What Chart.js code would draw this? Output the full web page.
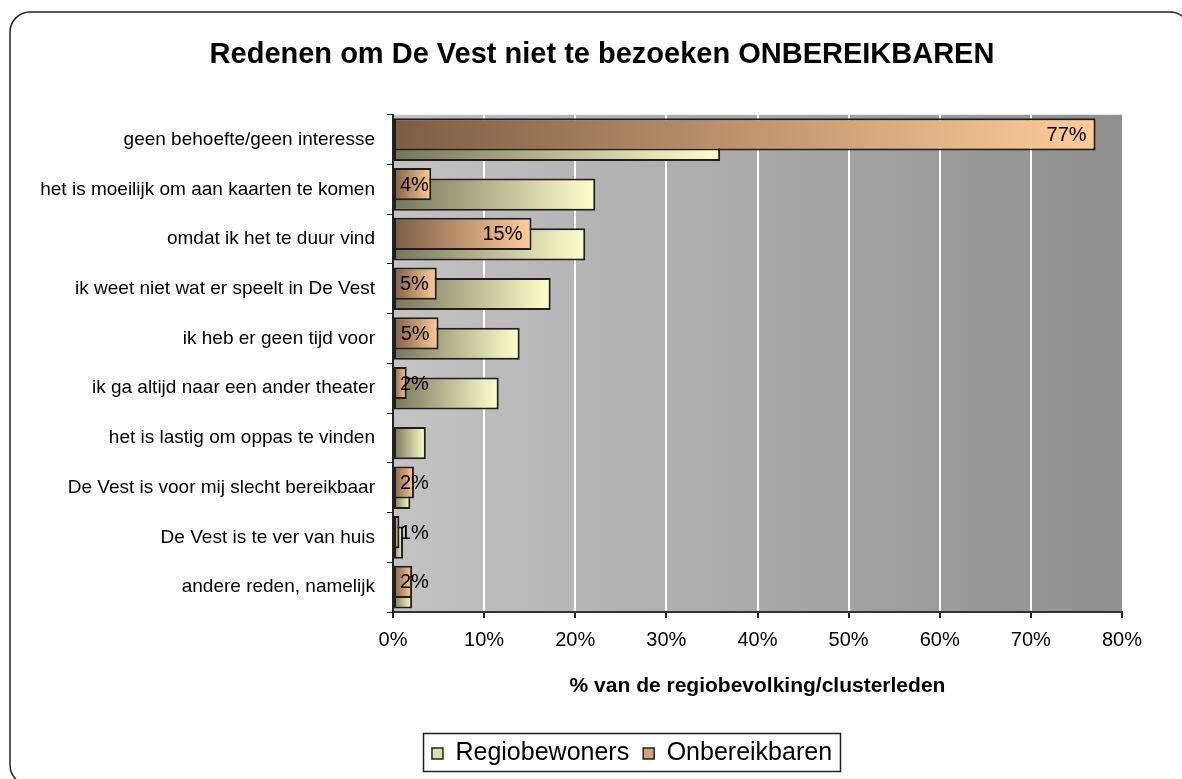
<!DOCTYPE html>
<html lang="nl">
<head>
<meta charset="UTF-8">
<title>Redenen om De Vest niet te bezoeken</title>
<script src="https://cdn.jsdelivr.net/npm/chart.js"></script>
<style>
    html, body { margin: 0; padding: 0; background: #fff; }
    #wrap { width: 1182px; height: 779px; }
</style>
</head>
<body>
<div id="wrap"><canvas id="grafiek" width="1182" height="779"></canvas></div>
<script>
// categorieën (van boven naar beneden)
const redenen = [
    "geen behoefte/geen interesse",
    "het is moeilijk om aan kaarten te komen",
    "omdat ik het te duur vind",
    "ik weet niet wat er speelt in De Vest",
    "ik heb er geen tijd voor",
    "ik ga altijd naar een ander theater",
    "het is lastig om oppas te vinden",
    "De Vest is voor mij slecht bereikbaar",
    "De Vest is te ver van huis",
    "andere reden, namelijk"
];
// percentages
const regiobewoners = [35.9, 22.2, 21.1, 17.3, 13.9, 11.6, 3.6, 1.9, 1.1, 2.1];
const onbereikbaren = [77.1, 4.2, 15.2, 4.8, 5.0, 1.5, null, 2.3, 0.7, 2.1];
const xTicks = [0, 10, 20, 30, 40, 50, 60, 70, 80];

const lettertype = "'Liberation Sans', Arial, sans-serif";

// verloop per balk: donker aan de as, licht aan het eind
function balkVerloop(donker, licht) {
    return ctx => {
        const chart = ctx.chart;
        if (!chart.chartArea || ctx.type !== 'data' || ctx.raw == null) return licht;
        const x = chart.scales.x;
        const x0 = x.getPixelForValue(0);
        const x1 = x.getPixelForValue(ctx.raw);
        if (!(x1 - x0 > 1)) return donker;
        const g = chart.ctx.createLinearGradient(x0, 0, x1, 0);
        g.addColorStop(0, donker);
        g.addColorStop(1, licht);
        return g;
    };
}

// box horizontaal verplaatsen zodat het midden op cx ligt
function centreer(box, cx) {
    const d = cx - (box.left + box.right) / 2;
    box.left += d;
    box.right += d;
}

// achtergrond, kader en legendakader
const decor = {
    id: 'decor',
    beforeDraw(chart) {
        const c = chart.ctx;
        const a = chart.chartArea;
        c.save();
        c.fillStyle = '#fff';
        c.fillRect(0, 0, chart.width, chart.height);
        c.strokeStyle = '#222';
        c.lineWidth = 1.5;
        c.beginPath();
        c.roundRect(10, 12, 1180, 773, 20);
        c.stroke();
        const g = c.createLinearGradient(a.left, 0, a.right, 0);
        g.addColorStop(0, '#c3c3c3');
        g.addColorStop(1, '#8f8f8f');
        c.fillStyle = g;
        c.fillRect(a.left, a.top, a.right - a.left, a.bottom - a.top);
        c.restore();
    },
    afterLayout(chart) {
        centreer(chart.titleBlock, 602);
        centreer(chart.legend, 632);
    },
    afterDraw(chart) {
        const lg = chart.legend;
        const pad = lg.options.labels.padding;
        const w = lg.lineWidths[0] - pad;
        const cx = (lg.left + lg.right) / 2;
        const c = chart.ctx;
        c.save();
        c.strokeStyle = '#222';
        c.lineWidth = 1.5;
        c.strokeRect(Math.round(cx - w / 2 - 9) + 0.5, lg.top + 6.5, Math.round(w + 17), 38);
        c.restore();
    }
};

// waardelabels in de Onbereikbaren-balken
const labels = {
    id: 'labels',
    afterDatasetsDraw(chart) {
        const meta = chart.getDatasetMeta(0);
        const x0 = chart.scales.x.getPixelForValue(0);
        const c = chart.ctx;
        c.save();
        c.font = '20px ' + lettertype;
        c.fillStyle = '#000';
        c.textAlign = 'right';
        c.textBaseline = 'middle';
        meta.data.forEach((el, i) => {
            const v = onbereikbaren[i];
            if (v == null) return;
            const t = Math.round(v) + '%';
            const tw = c.measureText(t).width;
            const x = Math.max(el.x - 9, x0 + 7 + tw);
            c.fillText(t, x, el.y + 1);
        });
        c.restore();
    }
};

new Chart(document.getElementById('grafiek'), {
    type: 'bar',
    data: {
        labels: redenen,
        datasets: [
            {
                label: 'Onbereikbaren',
                data: onbereikbaren,
                backgroundColor: balkVerloop('#7d5d43', '#ffcc99'),
                borderColor: '#1e1e1e',
                borderWidth: 2,
                borderSkipped: false,
                categoryPercentage: 0.42,
                barPercentage: 3.08
            },
            {
                label: 'Regiobewoners',
                data: regiobewoners,
                backgroundColor: balkVerloop('#74745a', '#ffffcc'),
                borderColor: '#1e1e1e',
                borderWidth: 2,
                borderSkipped: false,
                categoryPercentage: 0.42,
                barPercentage: 3.08
            }
        ]
    },
    options: {
        indexAxis: 'y',
        responsive: false,
        animation: false,
        devicePixelRatio: 1,
        layout: { padding: { left: 10, right: 60, top: 10, bottom: 3 } },
        scales: {
            x: {
                min: 0,
                max: 80,
                afterBuildTicks: s => { s.ticks = xTicks.map(v => ({ value: v })); },
                afterFit: s => { s.height = 115; },
                ticks: {
                    callback: v => v + '%',
                    color: '#000',
                    padding: 10,
                    maxRotation: 0,
                    font: { family: lettertype, size: 20 }
                },
                grid: {
                    color: c => (c.tick && (c.tick.value === 0 || c.tick.value === 80)) ? 'rgba(0,0,0,0)' : '#ffffff',
                    lineWidth: 2,
                    tickColor: '#222',
                    tickLength: 6
                },
                border: { color: '#333', width: 2 },
                title: {
                    display: true,
                    text: '% van de regiobevolking/clusterleden',
                    color: '#000',
                    font: { family: lettertype, size: 21, weight: 'bold' },
                    padding: { top: 0, bottom: 28 }
                }
            },
            y: {
                afterFit: s => { s.width = 383; },
                ticks: {
                    color: '#000',
                    padding: 12,
                    autoSkip: false,
                    font: { family: lettertype, size: 19 }
                },
                grid: {
                    offset: true,
                    drawOnChartArea: false,
                    tickColor: '#222',
                    tickLength: 6
                },
                border: { color: '#222', width: 2 }
            }
        },
        plugins: {
            title: {
                display: true,
                text: 'Redenen om De Vest niet te bezoeken ONBEREIKBAREN',
                color: '#000',
                font: { family: lettertype, size: 29, weight: 'bold' },
                padding: { top: 28, bottom: 42 }
            },
            legend: {
                position: 'bottom',
                reverse: true,
                labels: {
                    color: '#000',
                    boxWidth: 11,
                    boxHeight: 11,
                    padding: 14,
                    font: { family: lettertype, size: 25 },
                    generateLabels: chart => chart.data.datasets.map((ds, i) => ({
                        text: ds.label,
                        fillStyle: i === 0 ? '#d2a07a' : '#dcdcac',
                        strokeStyle: '#222',
                        lineWidth: 1.5,
                        fontColor: '#000',
                        datasetIndex: i,
                        hidden: !chart.isDatasetVisible(i)
                    }))
                }
            },
            tooltip: { enabled: false }
        }
    },
    plugins: [decor, labels]
});
</script>
</body>
</html>
